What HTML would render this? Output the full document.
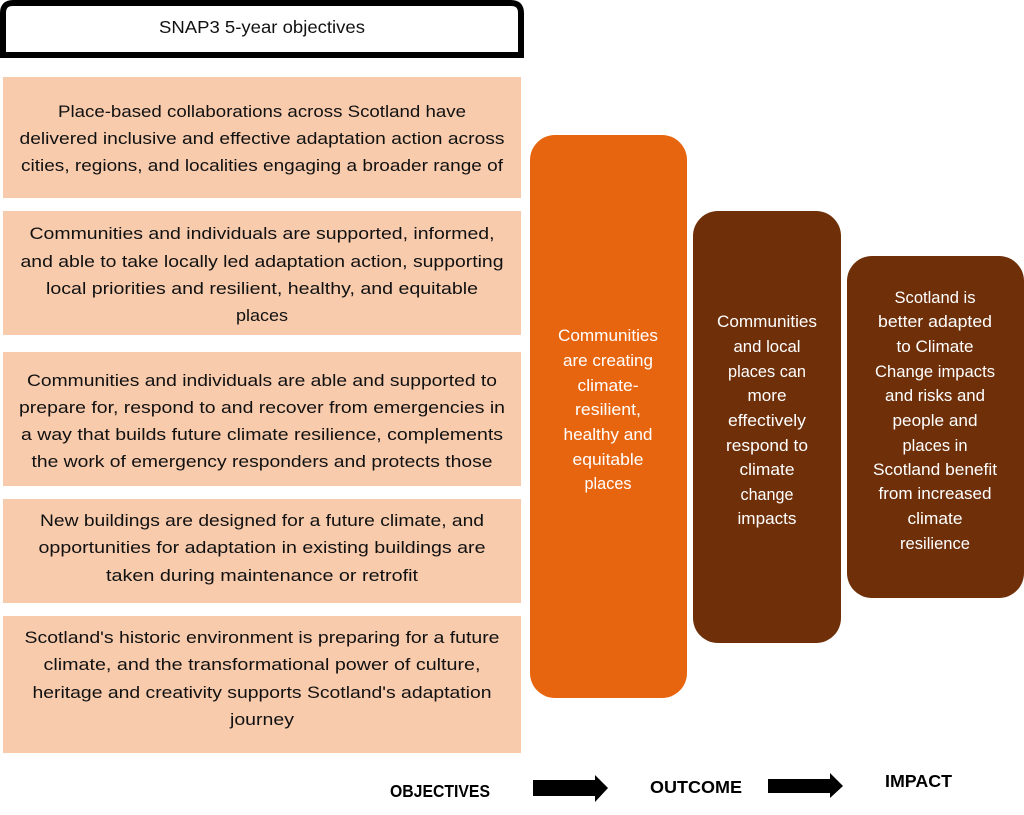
<!DOCTYPE html>
<html><head><meta charset="utf-8"><style>
html,body{margin:0;padding:0;background:#fff;width:1024px;height:815px;overflow:hidden}
svg{display:block}
.p{font-family:"Liberation Sans",sans-serif;font-size:17px;fill:#111}
.w{font-family:"Liberation Sans",sans-serif;font-size:16.5px;fill:#fff}
.b{font-family:"Liberation Sans",sans-serif;font-size:17.5px;font-weight:bold;fill:#000}
</style></head><body>
<svg width="1024" height="815" viewBox="0 0 1024 815" xmlns="http://www.w3.org/2000/svg">
<rect width="1024" height="815" fill="#fff"/>
<!-- header -->
<path d="M3,55 L3,13 Q3,3 13,3 L511,3 Q521,3 521,13 L521,55 Z" fill="#fff" stroke="#000" stroke-width="6"/>
<text class="p" x="262" y="33" text-anchor="middle" textLength="206" lengthAdjust="spacingAndGlyphs" style="font-size:17.5px">SNAP3 5-year objectives</text>

<!-- peach boxes -->
<g fill="#F8CBAD">
<rect x="3" y="77" width="518" height="121"/>
<rect x="3" y="211" width="518" height="124"/>
<rect x="3" y="352" width="518" height="134"/>
<rect x="3" y="499" width="518" height="104"/>
<rect x="3" y="616" width="518" height="137"/>
</g>
<g class="p" text-anchor="middle">
<text x="262" y="117" textLength="408" lengthAdjust="spacingAndGlyphs">Place-based collaborations across Scotland have</text>
<text x="262" y="144" textLength="485" lengthAdjust="spacingAndGlyphs">delivered inclusive and effective adaptation action across</text>
<text x="262" y="171" textLength="482" lengthAdjust="spacingAndGlyphs">cities, regions, and localities engaging a broader range of</text>

<text x="262" y="239" textLength="465" lengthAdjust="spacingAndGlyphs">Communities and individuals are supported, informed,</text>
<text x="262" y="267" textLength="483" lengthAdjust="spacingAndGlyphs">and able to take locally led adaptation action, supporting</text>
<text x="262" y="294" textLength="432" lengthAdjust="spacingAndGlyphs">local priorities and resilient, healthy, and equitable</text>
<text x="262" y="321" textLength="52" lengthAdjust="spacingAndGlyphs">places</text>

<text x="262" y="386" textLength="470" lengthAdjust="spacingAndGlyphs">Communities and individuals are able and supported to</text>
<text x="262" y="413" textLength="486" lengthAdjust="spacingAndGlyphs">prepare for, respond to and recover from emergencies in</text>
<text x="262" y="440" textLength="482" lengthAdjust="spacingAndGlyphs">a way that builds future climate resilience, complements</text>
<text x="262" y="467" textLength="461" lengthAdjust="spacingAndGlyphs">the work of emergency responders and protects those</text>

<text x="262" y="526" textLength="444" lengthAdjust="spacingAndGlyphs">New buildings are designed for a future climate, and</text>
<text x="262" y="553" textLength="447" lengthAdjust="spacingAndGlyphs">opportunities for adaptation in existing buildings are</text>
<text x="262" y="581" textLength="312" lengthAdjust="spacingAndGlyphs">taken during maintenance or retrofit</text>

<text x="262" y="643" textLength="475" lengthAdjust="spacingAndGlyphs">Scotland's historic environment is preparing for a future</text>
<text x="262" y="670" textLength="437" lengthAdjust="spacingAndGlyphs">climate, and the transformational power of culture,</text>
<text x="262" y="698" textLength="459" lengthAdjust="spacingAndGlyphs">heritage and creativity supports Scotland's adaptation</text>
<text x="262" y="725" textLength="64" lengthAdjust="spacingAndGlyphs">journey</text>
</g>

<!-- right columns -->
<rect x="530" y="135" width="157" height="563" rx="25" ry="25" fill="#E8650F"/>
<rect x="693" y="211" width="148" height="432" rx="25" ry="25" fill="#6E2F09"/>
<rect x="847" y="256" width="177" height="342" rx="25" ry="25" fill="#6E2F09"/>

<g class="w" text-anchor="middle">
<text x="608" y="341" textLength="100" lengthAdjust="spacingAndGlyphs">Communities</text>
<text x="608" y="366" textLength="90" lengthAdjust="spacingAndGlyphs">are creating</text>
<text x="608" y="391" textLength="61" lengthAdjust="spacingAndGlyphs">climate-</text>
<text x="608" y="415" textLength="66" lengthAdjust="spacingAndGlyphs">resilient,</text>
<text x="608" y="440" textLength="89" lengthAdjust="spacingAndGlyphs">healthy and</text>
<text x="608" y="465" textLength="71" lengthAdjust="spacingAndGlyphs">equitable</text>
<text x="608" y="489" textLength="47" lengthAdjust="spacingAndGlyphs">places</text>

<text x="767" y="327" textLength="100" lengthAdjust="spacingAndGlyphs">Communities</text>
<text x="767" y="352" textLength="67" lengthAdjust="spacingAndGlyphs">and local</text>
<text x="767" y="377" textLength="78" lengthAdjust="spacingAndGlyphs">places can</text>
<text x="767" y="401" textLength="39" lengthAdjust="spacingAndGlyphs">more</text>
<text x="767" y="426" textLength="78" lengthAdjust="spacingAndGlyphs">effectively</text>
<text x="767" y="451" textLength="82" lengthAdjust="spacingAndGlyphs">respond to</text>
<text x="767" y="475" textLength="55" lengthAdjust="spacingAndGlyphs">climate</text>
<text x="767" y="500" textLength="53" lengthAdjust="spacingAndGlyphs">change</text>
<text x="767" y="524" textLength="59" lengthAdjust="spacingAndGlyphs">impacts</text>

<text x="935" y="303" textLength="81" lengthAdjust="spacingAndGlyphs">Scotland is</text>
<text x="935" y="327" textLength="114" lengthAdjust="spacingAndGlyphs">better adapted</text>
<text x="935" y="352" textLength="77" lengthAdjust="spacingAndGlyphs">to Climate</text>
<text x="935" y="377" textLength="120" lengthAdjust="spacingAndGlyphs">Change impacts</text>
<text x="935" y="401" textLength="100" lengthAdjust="spacingAndGlyphs">and risks and</text>
<text x="935" y="426" textLength="85" lengthAdjust="spacingAndGlyphs">people and</text>
<text x="935" y="451" textLength="65" lengthAdjust="spacingAndGlyphs">places in</text>
<text x="935" y="475" textLength="124" lengthAdjust="spacingAndGlyphs">Scotland benefit</text>
<text x="935" y="499" textLength="113" lengthAdjust="spacingAndGlyphs">from increased</text>
<text x="935" y="524" textLength="55" lengthAdjust="spacingAndGlyphs">climate</text>
<text x="935" y="549" textLength="70" lengthAdjust="spacingAndGlyphs">resilience</text>
</g>

<!-- bottom legend -->
<g class="b">
<text x="390" y="797" textLength="100" lengthAdjust="spacingAndGlyphs">OBJECTIVES</text>
<text x="650" y="793" textLength="92" lengthAdjust="spacingAndGlyphs">OUTCOME</text>
<text x="885" y="787" textLength="67" lengthAdjust="spacingAndGlyphs">IMPACT</text>
</g>
<polygon points="533,780 595,780 595,775 608,788 595,802 595,796 533,796" fill="#000"/>
<polygon points="768,779 830,779 830,773 843,786 830,798 830,793 768,793" fill="#000"/>
</svg>
</body></html>
